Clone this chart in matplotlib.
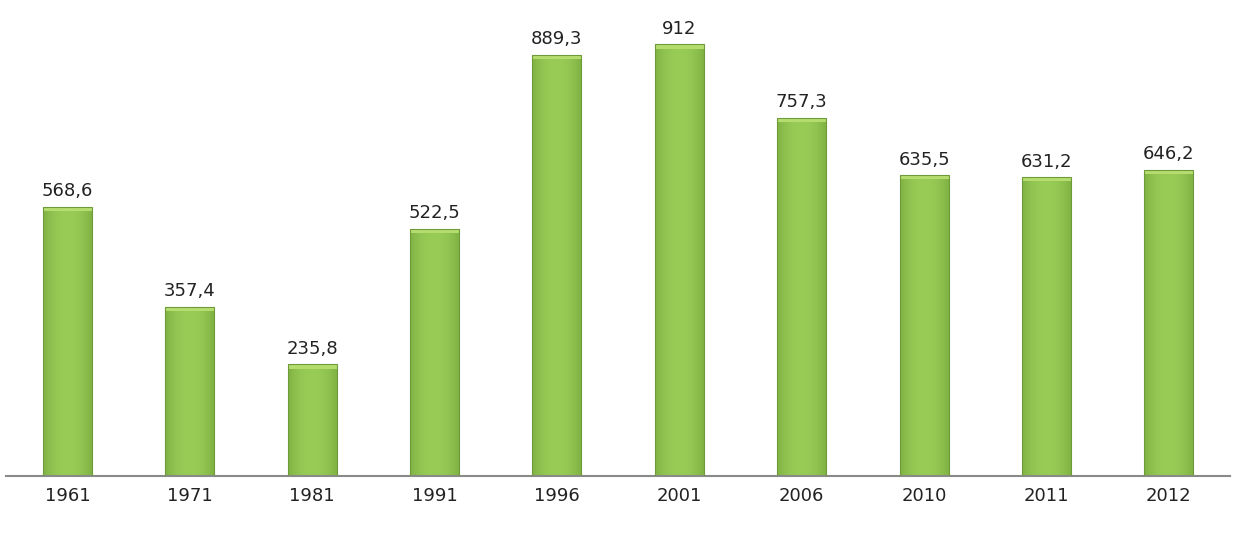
import numpy as np
import matplotlib.pyplot as plt
from matplotlib.patches import Rectangle

years = ["1961", "1971", "1981", "1991", "1996", "2001", "2006", "2010", "2011", "2012"]
values = [568.6, 357.4, 235.8, 522.5, 889.3, 912, 757.3, 635.5, 631.2, 646.2]

fig = plt.figure(figsize=(12.5, 5.33), dpi=100)
ax = fig.add_axes([0.005, 0.107, 0.979, 0.888])

x = np.arange(len(years))
width = 0.4
ax.set_xlim(-0.5, len(years) - 0.5)
ax.set_ylim(0, 1000)

# horizontal gradient: darker edges, lighter middle
t = np.linspace(0, 1, 64)
shade = 1 - 0.55 * (2 * t - 1) ** 2
base_dark = np.array([0.42, 0.62, 0.20])
base_light = np.array([0.60, 0.80, 0.34])
grad = base_dark[None, :] + (base_light - base_dark)[None, :] * shade[:, None]
grad = grad[None, :, :]

for xi, v in zip(x, values):
    left = xi - width / 2
    rect = Rectangle((left, 0), width, v, facecolor="none",
                     edgecolor="#6f9a3a", linewidth=0.8, zorder=3)
    ax.add_patch(rect)
    im = ax.imshow(grad, extent=(left, left + width, 0, v), aspect="auto",
                   zorder=2, interpolation="bilinear")
    im.set_clip_path(rect)
    # light cap at the top of each bar
    ax.add_patch(Rectangle((left, v - 9), width, 9, facecolor="#b5dc6e",
                           edgecolor="none", zorder=2.5))
    label = ("%g" % v).replace(".", ",")
    ax.text(xi, v + 14, label, ha="center", va="bottom", fontsize=13,
            color="#222222", family="DejaVu Sans")

ax.set_xticks(x)
ax.set_xticklabels(years, fontsize=13, color="#222222")
ax.tick_params(axis="x", length=0, pad=8)
ax.set_yticks([])
for s in ["top", "right", "left"]:
    ax.spines[s].set_visible(False)
ax.spines["bottom"].set_color("#8a8a8a")
ax.spines["bottom"].set_linewidth(1.5)

fig.savefig("out.png", dpi=100, facecolor="white")
